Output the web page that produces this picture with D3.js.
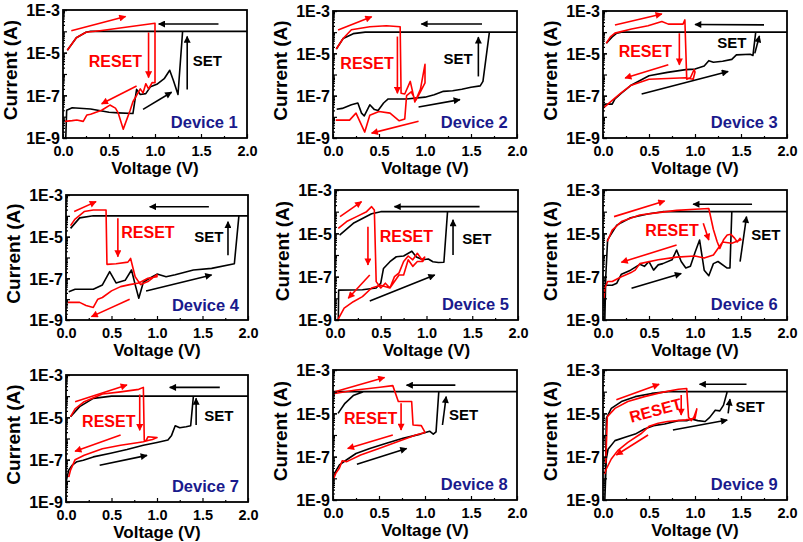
<!DOCTYPE html>
<html><head><meta charset="utf-8">
<script src="https://cdn.jsdelivr.net/npm/d3@7/dist/d3.min.js"></script>
<style>
body{margin:0;background:#fff}
svg{display:block}
text{font-family:"Liberation Sans",Arial,sans-serif;font-weight:bold}
</style>
</head><body>
<svg id="chart" width="803" height="542"></svg>
<script>
// ---------- data ----------
const deviceNames = ["Device 1","Device 2","Device 3","Device 4","Device 5","Device 6","Device 7","Device 8","Device 9"];
const xTickValues = [0, 0.5, 1.0, 1.5, 2.0];
const yTickValues = [1e-9, 1e-7, 1e-5, 1e-3];
const yTickLabels = ["1E-9", "1E-7", "1E-5", "1E-3"];
const xTitle = "Voltage (V)";
const yTitle = "Current (A)";

// black = SET sweep, red = RESET sweep ; [voltage (V), current (A)]
const set1 = [[0.03,1e-9],[0.04,2e-8],[0.1,2.6e-8],[0.3,2.3e-8],[0.5,1.6e-8],[0.6,1.5e-8],[0.76,1.4e-8],[0.8,1.9e-7],[0.84,1.1e-7],[0.9,1.2e-7],[0.95,2.5e-7],[1.02,3.3e-7],[1.1,6e-7],[1.16,1.5e-6],[1.2,5e-7],[1.25,1.1e-7],[1.3,1e-4],[2.0,1e-4],[0.3,1e-4],[0.25,9e-5],[0.145,5e-5],[0.047,1.3e-5]];
const reset1 = [[0.047,1.3e-5],[0.145,5e-5],[0.25,9e-5],[0.4,1.07e-4],[0.7,1.6e-4],[1.0,2.4e-4],[1.0,3.9e-7],[0.97,4e-7],[0.93,2e-7],[0.9,3.5e-7],[0.87,1.3e-7],[0.84,2e-7],[0.8,1e-7],[0.76,5e-8],[0.73,2e-8],[0.655,2.6e-9],[0.6,1.5e-8],[0.57,2.5e-8],[0.51,3.5e-8],[0.42,2e-8],[0.3,1.3e-8],[0.26,1.2e-8],[0.22,6e-9],[0.15,7e-9],[0.1,6.5e-9],[0.02,6e-9]];

const set2 = [[0.04,2.3e-8],[0.1,2.5e-8],[0.2,3.7e-8],[0.27,4.5e-8],[0.31,1.5e-8],[0.34,1.1e-8],[0.4,3.7e-8],[0.45,2.2e-8],[0.49,2e-8],[0.55,4.5e-8],[0.6,7e-8],[0.8,7e-8],[1.0,8.5e-8],[1.1,1.1e-7],[1.2,1.6e-7],[1.3,1.7e-7],[1.4,2e-7],[1.5,2.5e-7],[1.6,2.9e-7],[1.63,4.7e-7],[1.7,1e-4],[2.0,1e-4],[0.35,1e-4],[0.22,8.5e-5],[0.11,5e-5],[0.036,1.6e-5]];
const reset2 = [[0.036,1.6e-5],[0.11,5e-5],[0.2,1.3e-4],[0.4,1.8e-4],[0.58,2e-4],[0.73,1.8e-4],[0.74,1.3e-7],[0.78,1.2e-7],[0.84,4.7e-7],[0.89,5e-8],[0.95,2e-7],[1.0,3e-6],[1.0,4e-7],[0.95,1.5e-7],[0.9,6e-8],[0.85,1.5e-7],[0.8,1e-7],[0.78,8e-9],[0.72,6.5e-9],[0.62,1.5e-8],[0.5,1.8e-8],[0.4,1.2e-8],[0.345,1.9e-9],[0.25,1.5e-8],[0.18,7e-9],[0.03,7e-9]];

const set3 = [[0.0,3.1e-8],[0.02,4e-8],[0.1,4e-8],[0.13,7e-8],[0.2,1.3e-7],[0.3,3e-7],[0.5,8.7e-7],[0.7,1.26e-6],[0.9,1.7e-6],[1.0,1.8e-6],[1.1,2.5e-6],[1.15,4.5e-6],[1.2,3.8e-6],[1.3,4.2e-6],[1.4,5.2e-6],[1.45,8.5e-6],[1.6,9e-6],[1.63,8e-6],[1.66,1e-4],[2.0,1e-4],[0.2,1e-4],[0.15,9e-5],[0.1,6e-5],[0.036,3e-5]];
const reset3 = [[0.036,3e-5],[0.08,6e-5],[0.13,9e-5],[0.31,1.4e-4],[0.49,2e-4],[0.64,3.2e-4],[0.71,2.4e-4],[0.87,2.4e-4],[0.89,3.8e-4],[0.91,6e-7],[0.95,7e-7],[0.99,1.7e-6],[1.0,1.3e-6],[0.98,6e-7],[0.9,7e-7],[0.7,6.5e-7],[0.5,6e-7],[0.3,3e-7],[0.2,1.4e-7],[0.1,6e-8],[0.0,2.5e-8]];

const set4 = [[0.03,2.3e-8],[0.1,3e-8],[0.3,3e-8],[0.4,4.8e-8],[0.48,2.1e-7],[0.55,6e-8],[0.65,8e-8],[0.72,2.5e-7],[0.76,5e-8],[0.8,1.1e-8],[0.85,6.5e-8],[0.9,9e-8],[1.0,1.6e-7],[1.1,1.2e-7],[1.2,1.5e-7],[1.4,2.5e-7],[1.6,3e-7],[1.85,5e-7],[1.9,1e-4],[2.0,1e-4],[0.3,1e-4],[0.15,8e-5],[0.05,2.5e-5]];
const reset4 = [[0.05,3.4e-5],[0.1,7e-5],[0.2,1.6e-4],[0.3,1.9e-4],[0.44,1.9e-4],[0.45,4.7e-7],[0.55,5e-7],[0.68,6e-7],[0.71,9e-7],[0.76,1.2e-7],[0.82,5e-8],[0.9,7e-8],[1.0,1.5e-7],[1.0,1.2e-7],[0.9,1e-7],[0.8,6e-8],[0.7,5e-8],[0.6,4e-8],[0.5,2.5e-8],[0.4,1.2e-8],[0.35,1e-8],[0.3,4e-9],[0.22,5e-9],[0.15,7e-9],[0.02,7e-9]];

const set5 = [[0.036,1e-9],[0.04,2.4e-8],[0.3,2.5e-8],[0.45,3e-8],[0.5,5e-8],[0.53,2.4e-7],[0.6,4.9e-7],[0.67,8.3e-7],[0.75,9e-7],[0.84,1.5e-6],[0.89,8e-7],[0.96,6e-7],[1.02,6.5e-7],[1.07,4.9e-7],[1.13,4.5e-7],[1.19,4.6e-7],[1.23,1e-4],[2.0,1e-4],[0.5,1e-4],[0.4,8e-5],[0.2,2.9e-5],[0.05,8.3e-6]];
const reset5 = [[0.036,1.7e-5],[0.127,3.5e-5],[0.236,5.9e-5],[0.345,1e-4],[0.4,1.7e-4],[0.43,1.2e-4],[0.45,5.9e-8],[0.5,3e-8],[0.55,5e-8],[0.6,3e-8],[0.65,1e-7],[0.7,1.5e-7],[0.75,5e-7],[0.8,9e-7],[0.85,6e-7],[0.9,1.2e-6],[0.95,6e-7],[0.98,8e-7],[0.96,5e-7],[0.9,5e-7],[0.85,3e-7],[0.8,6e-7],[0.75,1.2e-7],[0.7,1.2e-7],[0.6,3e-8],[0.5,4e-8],[0.4,3e-8],[0.3,1.2e-8],[0.2,7e-9],[0.1,3.5e-9],[0.03,1e-9]];

const set6 = [[0.02,1e-9],[0.02,4e-8],[0.1,4e-8],[0.15,5e-8],[0.2,1.3e-7],[0.3,2e-7],[0.4,3.7e-7],[0.45,3e-7],[0.5,5e-7],[0.55,2e-7],[0.6,3.5e-7],[0.65,4e-7],[0.75,6e-7],[0.8,1.7e-6],[0.85,5e-7],[0.9,2.5e-7],[0.95,3e-7],[1.0,1.3e-6],[1.05,4.9e-6],[1.1,2e-7],[1.15,1.1e-7],[1.2,4e-7],[1.25,5e-7],[1.35,2.5e-7],[1.38,2.5e-7],[1.4,1e-4],[2.0,1e-4],[0.65,1e-4],[0.5,8e-5],[0.3,5.2e-5],[0.15,2.4e-5],[0.05,5e-6],[0.03,1e-7],[0.02,1e-9]];
const reset6 = [[0.047,4.2e-6],[0.1,1.4e-5],[0.2,3.5e-5],[0.4,7e-5],[0.6,9e-5],[0.8,1.15e-4],[1.0,1.3e-4],[1.15,1.4e-4],[1.2,1.5e-5],[1.24,4.2e-6],[1.27,2e-6],[1.31,5e-6],[1.35,8.4e-6],[1.39,9e-6],[1.43,6e-6],[1.46,4e-6],[1.49,5.9e-6],[1.5,5e-6],[1.4,3.5e-6],[1.3,4e-6],[1.25,2e-6],[1.2,1e-6],[1.1,7.2e-7],[1.0,9e-7],[0.8,8e-7],[0.6,6e-7],[0.4,4e-7],[0.35,2e-7],[0.3,1.5e-7],[0.2,1e-7],[0.1,6e-8],[0.05,6e-8],[0.02,3e-8],[0.01,1e-8]];

const set7 = [[0.0,8.7e-9],[0.03,3.2e-8],[0.066,5.4e-8],[0.12,8e-8],[0.19,9.3e-8],[0.3,1.35e-7],[0.49,2e-7],[0.67,3e-7],[0.85,4.8e-7],[1.0,6.5e-7],[1.12,8.5e-7],[1.16,1.4e-6],[1.2,4e-6],[1.25,3.2e-6],[1.32,3.6e-6],[1.37,4e-6],[1.4,1e-4],[2.0,1e-4],[0.5,1e-4],[0.3,7.9e-5],[0.15,3.2e-5],[0.05,1.07e-5]];
const reset7 = [[0.05,1.07e-5],[0.1,2.5e-5],[0.2,5.5e-5],[0.4,1.26e-4],[0.6,1.6e-4],[0.8,2.1e-4],[0.85,2.6e-4],[0.86,8.3e-7],[0.88,8e-7],[0.9,1.2e-6],[1.0,1.1e-6],[0.95,9e-7],[0.9,8e-7],[0.85,7e-7],[0.8,6.5e-7],[0.6,4.8e-7],[0.4,3.3e-7],[0.2,1.6e-7],[0.1,1e-7],[0.05,3.2e-8],[0.03,1.5e-8]];

const set8 = [[0.0,1e-8],[0.036,2.4e-8],[0.07,4.2e-8],[0.145,7e-8],[0.25,1.4e-7],[0.4,2.4e-7],[0.58,4.2e-7],[0.76,7e-7],[0.95,1.1e-6],[1.05,1.5e-6],[1.09,1.1e-6],[1.12,1.4e-6],[1.15,1e-4],[2.0,1e-4],[0.0,1e-4],null,[0.33,1e-4],[0.22,6.6e-5],[0.13,2.9e-5],[0.055,1e-5]];
const reset8 = [[0.0,8e-5],[0.25,1.2e-4],[0.51,1.6e-4],[0.65,1.9e-4],[0.71,3.5e-5],[0.855,3.5e-5],[0.87,2.9e-6],[0.96,2.7e-6],[0.99,1.6e-6],[1.0,1.3e-6],[0.9,1e-6],[0.7,4.9e-7],[0.5,2.4e-7],[0.3,1.2e-7],[0.15,5.9e-8],[0.1,6.5e-8],[0.07,3e-8],[0.03,1.7e-8],[0.0,8.3e-9]];

const set9 = [[0.02,1e-9],[0.036,7.9e-8],[0.055,2.2e-7],[0.13,5.5e-7],[0.24,7.8e-7],[0.35,1.1e-6],[0.45,1.9e-6],[0.55,2.7e-6],[0.67,3.2e-6],[0.82,4.6e-6],[0.91,4.6e-6],[0.96,5.5e-6],[1.03,4.6e-6],[1.11,4.2e-6],[1.16,6.5e-6],[1.22,1.4e-5],[1.27,1.3e-5],[1.31,2.4e-5],[1.35,1e-4],[2.0,1e-4],[0.71,1e-4],[0.53,8.3e-5],[0.35,5.9e-5],[0.2,3.5e-5],[0.09,1.7e-5],[0.036,5.9e-6],[0.03,1e-7],[0.02,1e-9]];
const reset9 = [[0.03,5e-8],[0.047,7e-6],[0.13,1.7e-5],[0.27,3.5e-5],[0.45,5.9e-5],[0.64,9.3e-5],[0.82,1.3e-4],[0.91,1.4e-4],[0.93,6.6e-6],[0.96,4.6e-6],[0.99,7e-6],[1.02,1.6e-5],[1.0,5.9e-6],[0.9,5e-6],[0.7,4.2e-6],[0.6,3.5e-6],[0.5,2.5e-6],[0.42,1.2e-6],[0.27,4.6e-7],[0.16,1.9e-7],[0.09,7.8e-8],[0.036,2.7e-8],[0.018,1.6e-8]];

// sweep-direction arrows: [colour, V start, I start, V end, I end]
const arrows1 = [["red",0.09,1.07e-4,0.68,5e-4],["red",0.93,8.9e-5,0.93,6.8e-7],["red",0.8,2.75e-7,0.42,4e-8],["black",1.69,2.2e-4,1.04,2.2e-4],["black",0.87,2.2e-8,1.18,1.4e-7],["black",1.35,1.9e-7,1.35,5.8e-5]];
const arrows2 = [["red",0.055,1.26e-4,0.42,5.4e-4],["red",0.70,6.2e-5,0.70,1.3e-7],["red",0.93,6.2e-9,0.42,1.7e-9],["black",1.62,2.45e-4,0.96,2.45e-4],["black",0.93,2.9e-8,1.38,6.5e-8],["black",1.58,8.1e-7,1.58,5.8e-5]];
const arrows3 = [["red",0.13,2.2e-4,0.64,7.2e-4],["red",0.83,8.9e-5,0.83,2.9e-6],["red",0.71,2.9e-6,0.24,6.8e-7],["black",1.75,2.2e-4,1.0,2.3e-4],["black",0.42,1.2e-7,1.36,1.4e-6],["black",1.65,1.0e-5,1.70,6.6e-5]];
const arrows4 = [["red",0.09,1.6e-4,0.33,4.8e-4],["red",0.57,7.6e-5,0.57,1.1e-6],["red",0.70,1.0e-8,0.28,1.45e-9],["black",1.57,2.75e-4,0.92,2.75e-4],["black",0.88,2.45e-8,1.6,1.45e-7],["black",1.78,1.3e-6,1.78,5.2e-5]];
const arrows5 = [["red",0.055,5.9e-5,0.29,2.9e-4],["red",0.36,2.0e-5,0.36,3.5e-7],["red",0.38,1.2e-7,0.145,1e-8],["black",1.58,1.7e-4,0.65,1.7e-4],["black",0.38,7.6e-9,1.09,1.2e-7],["black",1.29,1e-6,1.29,4.2e-5]];
const arrows6 = [["red",0.12,5.9e-5,0.67,3.1e-4],["red",1.09,2.9e-5,1.15,4.9e-6],["red",0.8,2.9e-6,0.2,4.6e-7],["black",1.62,2.2e-4,0.98,2.2e-4],["black",0.31,2.9e-8,0.85,1.4e-7],["black",1.49,4.9e-7,1.56,5.9e-5]];
const arrows7 = [["red",0.1,5.5e-5,0.67,3.4e-4],["red",0.81,1.2e-4,0.81,2.45e-6],["red",0.6,1.45e-6,0.1,2.5e-7],["black",1.69,2.6e-4,1.14,2.6e-4],["black",0.37,5.4e-8,0.89,1.6e-7],["black",1.43,4.3e-6,1.43,7.9e-5]];
const arrows8 = [["red",0.02,1e-4,0.56,4.5e-4],["red",0.74,2.9e-5,0.74,1.7e-6],["red",0.65,1e-6,0.16,2.4e-7],["black",1.33,2e-4,0.8,2e-4],["black",0.26,4.5e-8,0.8,2.4e-7],["black",1.19,2.9e-6,1.23,5.9e-5]];
const arrows9 = [["red",0.145,4.2e-5,0.61,2.2e-4],["red",0.85,7.1e-5,0.85,8.3e-6],["red",0.49,1e-6,0.145,1.2e-7],["black",1.56,2.2e-4,1.05,2.2e-4],["black",0.76,1.7e-6,1.35,4.9e-6],["black",1.36,1e-5,1.38,4.5e-5]];

// label anchor points in data units [V, I]
const resetLabelAt = [[0.57,4.1e-6],[0.37,3.5e-6],[0.46,1.2e-5],[0.9,1.6e-5],[0.78,7.6e-6],[0.75,1.4e-5],[0.47,6.9e-6],[0.41,5.9e-6],[0.57,1.4e-5]];
const setLabelAt = [[1.57,4.1e-6],[1.36,5.9e-6],[1.40,3.2e-5],[1.57,1e-5],[1.55,5.5e-6],[1.77,8.3e-6],[1.68,1.26e-5],[1.42,8.3e-6],[1.6,2e-5]];
const resetLabelAngle = [0,0,0,0,0,0,0,0,-15];

// ---------- layout ----------
const frames = [
  {l:63,r:247,t:10,b:138},{l:333,r:517,t:11,b:138},{l:603,r:787,t:11,b:138},
  {l:66,r:248,t:195,b:320},{l:335,r:518,t:190,b:320},{l:603,r:787,t:190,b:320},
  {l:66,r:248,t:375,b:502},{l:333,r:517,t:370,b:500},{l:603,r:787,t:370,b:500}
];
const setCurves = [set1,set2,set3,set4,set5,set6,set7,set8,set9];
const resetCurves = [reset1,reset2,reset3,reset4,reset5,reset6,reset7,reset8,reset9];
const arrowSets = [arrows1,arrows2,arrows3,arrows4,arrows5,arrows6,arrows7,arrows8,arrows9];
const RED = "#ff0000", NAVY = "#1a1a8c";

const svg = d3.select("#chart");
const defs = svg.append("defs");
[["red",RED],["black","#000"]].forEach(([k,c]) => {
  defs.append("marker").attr("id","ah-"+k)
    .attr("viewBox","0 0 10 10").attr("refX",9).attr("refY",5)
    .attr("markerWidth",10).attr("markerHeight",7).attr("markerUnits","userSpaceOnUse")
    .attr("orient","auto")
    .append("path").attr("d","M0,0L10,5L0,10Z").attr("fill",c);
});

// minor log ticks
const minorY = [];
for (let e=-9;e<-3;e++) for (let m=2;m<=9;m++) minorY.push(m*Math.pow(10,e));
const majorY = d3.range(-9,-2).map(e=>Math.pow(10,e));

frames.forEach((f,i) => {
  const x = d3.scaleLinear().domain([0,2]).range([f.l,f.r]);
  const y = d3.scaleLog().domain([1e-9,1e-3]).range([f.b,f.t]);
  const g = svg.append("g");
  defs.append("clipPath").attr("id","clip"+i).append("rect")
    .attr("x",f.l).attr("y",f.t).attr("width",f.r-f.l).attr("height",f.b-f.t);

  const line = d3.line().defined(d=>d!==null).x(d=>x(d[0])).y(d=>y(d[1]));
  const plot = g.append("g").attr("clip-path","url(#clip"+i+")");
  plot.append("path").attr("d",line(setCurves[i])).attr("fill","none")
    .attr("stroke","#000").attr("stroke-width",1.6).attr("stroke-linejoin","round");
  plot.append("path").attr("d",line(resetCurves[i])).attr("fill","none")
    .attr("stroke",RED).attr("stroke-width",1.6).attr("stroke-linejoin","round");

  // arrows
  arrowSets[i].forEach(a => {
    g.append("line")
      .attr("x1",x(a[1])).attr("y1",y(a[2])).attr("x2",x(a[3])).attr("y2",y(a[4]))
      .attr("stroke",a[0]==="red"?RED:"#000").attr("stroke-width",1.6)
      .attr("marker-end","url(#ah-"+a[0]+")");
  });

  // frame
  g.append("rect").attr("x",f.l).attr("y",f.t).attr("width",f.r-f.l).attr("height",f.b-f.t)
    .attr("fill","none").attr("stroke","#000").attr("stroke-width",1.8);

  // axes
  const ax = g.append("g").attr("transform",`translate(0,${f.b})`)
    .call(d3.axisBottom(x).tickValues(xTickValues).tickFormat(d3.format(".1f")).tickSize(-4).tickPadding(8));
  g.append("g").attr("transform",`translate(0,${f.b})`)
    .call(d3.axisBottom(x).tickValues([0.25,0.75,1.25,1.75]).tickFormat("").tickSize(-2));
  const ay = g.append("g").attr("transform",`translate(${f.l},0)`)
    .call(d3.axisLeft(y).tickValues(yTickValues).tickFormat((d,k)=>yTickLabels[k]).tickSize(-4).tickPadding(3));
  g.append("g").attr("transform",`translate(${f.l},0)`)
    .call(d3.axisLeft(y).tickValues(majorY).tickFormat("").tickSize(-4));
  g.append("g").attr("transform",`translate(${f.l},0)`)
    .call(d3.axisLeft(y).tickValues(minorY).tickFormat("").tickSize(-2));
  g.selectAll(".domain").remove();
  g.selectAll(".tick line").attr("stroke","#000").attr("stroke-width",1.2);
  ax.selectAll("text").style("font-size","14.5px").attr("fill","#000");
  ay.selectAll("text").style("font-size","16px").attr("fill","#000").attr("dy","0.36em");

  // titles
  g.append("text").attr("x",(f.l+f.r)/2).attr("y",f.b+36).attr("text-anchor","middle")
    .style("font-size","17px").text(xTitle);
  g.append("text").attr("transform",`translate(${f.l-46},${(f.t+f.b)/2-4}) rotate(-90)`)
    .attr("text-anchor","middle").style("font-size","19px").text(yTitle);

  // annotations
  const rl = resetLabelAt[i];
  g.append("text").attr("transform",`translate(${x(rl[0])},${y(rl[1])}) rotate(${resetLabelAngle[i]})`)
    .attr("text-anchor","middle").attr("dy","0.36em").attr("fill",RED)
    .style("font-size","16px").text("RESET");
  const sl = setLabelAt[i];
  g.append("text").attr("x",x(sl[0])).attr("y",y(sl[1])).attr("dy","0.36em")
    .attr("text-anchor","middle").attr("fill","#000").style("font-size","15px").text("SET");
  g.append("text").attr("x",x(1.9)).attr("y",y(Math.pow(10,-8.55)))
    .attr("text-anchor","end").attr("fill",NAVY).style("font-size","16.5px").text(deviceNames[i]);
});
</script>
</body></html>
